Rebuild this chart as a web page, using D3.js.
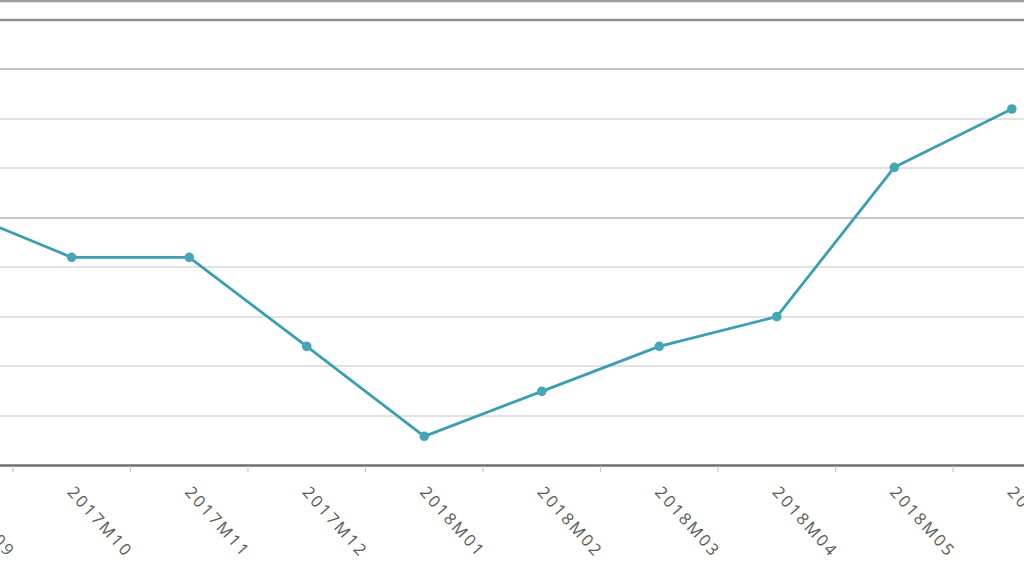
<!DOCTYPE html>
<html>
<head>
<meta charset="utf-8">
<script src="https://cdn.jsdelivr.net/npm/d3@7/dist/d3.min.js"></script>
<style>
  html, body { margin: 0; padding: 0; background: #ffffff; }
  svg { display: block; }
</style>
</head>
<body>
<svg id="chart" width="1024" height="576"></svg>
<script>
const categories = ["2017M09","2017M10","2017M11","2017M12","2018M01","2018M02","2018M03","2018M04","2018M05","2018M06"];
const values = [5.18, 4.2, 4.2, 2.4, 0.58, 1.49, 2.4, 3.0, 6.02, 7.2];
const gridValues = [0,1,2,3,4,5,6,7,8,9];

const svg = d3.select("#chart");
const W = 1024, H = 576;

const x = d3.scaleBand().domain(categories).range([-104.6, 1070.6]).padding(0);
const y = d3.scaleLinear().domain([0, 9]).range([465, 20]);

// top frame line
svg.append("line").attr("x1", 0).attr("x2", W).attr("y1", 1).attr("y2", 1)
  .attr("stroke", "#9a9a9a").attr("stroke-width", 2.5);

// gridlines
const gridColor = v => (v === 9 ? "#8f8f8f" : (v === 5 || v === 8) ? "#c4c4c4" : "#e2e2e2");
const gridWidth = v => (v === 9 ? 2.5 : 1.8);
svg.append("g").selectAll("line").data(gridValues.filter(v => v > 0)).join("line")
  .attr("x1", 0).attr("x2", W)
  .attr("y1", d => Math.round(y(d))).attr("y2", d => Math.round(y(d)))
  .attr("stroke", gridColor).attr("stroke-width", gridWidth);

// x axis
const xAxis = d3.axisBottom(x).tickSize(0).tickFormat("");
const axisG = svg.append("g").attr("transform", `translate(0,${y(0)})`).call(xAxis);
axisG.select(".domain").attr("stroke", "#6f6f6f").attr("stroke-width", 2.5);

// boundary ticks
const boundaries = categories.map(c => x(c)).concat([x(categories[categories.length-1]) + x.bandwidth()]);
svg.append("g").selectAll("line").data(boundaries).join("line")
  .attr("x1", d => d).attr("x2", d => d)
  .attr("y1", y(0) + 1).attr("y2", y(0) + 7)
  .attr("stroke", "#c8c8c8").attr("stroke-width", 1.2);

// rotated labels
svg.append("g").selectAll("text").data(categories).join("text")
  .attr("transform", d => `translate(${x(d) + x.bandwidth()/2 - 1},${489}) rotate(48)`)
  .attr("dy", "0.35em")
  .attr("text-anchor", "start")
  .attr("font-family", "'Open Sans', sans-serif")
  .attr("font-size", 16.5)
  .attr("letter-spacing", 2.4)
  .attr("fill", "#5a5a5a")
  .text(d => d);

// line
const cx = d => x(d) + x.bandwidth()/2;
const line = d3.line().x((d, i) => cx(categories[i])).y(d => y(d));
svg.append("path").datum(values)
  .attr("d", line)
  .attr("fill", "none")
  .attr("stroke", "#3b9fb1")
  .attr("stroke-width", 2.8)
  .attr("stroke-linejoin", "round");

svg.append("g").selectAll("circle").data(values).join("circle")
  .attr("cx", (d, i) => cx(categories[i]))
  .attr("cy", d => y(d))
  .attr("r", 4.8)
  .attr("fill", "#46a6b8");
</script>
</body>
</html>
